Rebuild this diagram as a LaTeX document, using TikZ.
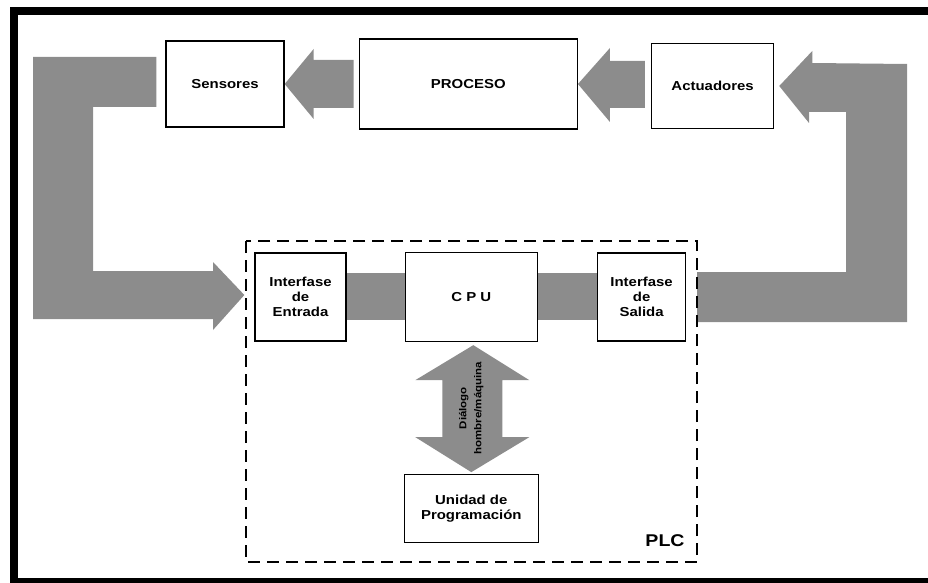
\documentclass[tikz,border=0pt]{standalone}
\usepackage{fontspec}
\setmainfont{Liberation Sans}[FakeStretch=1.15]
\usetikzlibrary{positioning,calc,backgrounds}
\tikzstyle{bloque}=[rectangle,draw=black,line width=1.3pt,fill=white,align=center,inner sep=0pt,font=\bfseries\fontsize{13}{15}\selectfont]
\tikzstyle{flecha}=[fill=black!45]
\tikzstyle{plc}=[draw=black,line width=1.8pt,dash pattern=on 12pt off 7pt]
\tikzstyle{marco}=[fill=black]

\begin{document}
\begin{tikzpicture}[x=1pt,y=-1pt]
            \useasboundingbox (0,0) rectangle (928,583);

            % fila superior
            \node[bloque,minimum width=118pt,minimum height=86pt] (sensores) at (225,84) {Sensores};
            \node[bloque,minimum width=218pt,minimum height=90pt,right=74pt of sensores] (proceso) {PROCESO};
            \node[bloque,minimum width=122pt,minimum height=85pt,right=73pt of proceso,yshift=-2pt] (actuadores) {Actuadores};

            % PLC
            \node[bloque,minimum width=91pt,minimum height=88pt] (entrada) at (300.5,297) {Interfase\\de\\Entrada};
            \node[bloque,minimum width=132pt,minimum height=89pt,right=58pt of entrada] (cpu) {C P U};
            \node[bloque,minimum width=88pt,minimum height=88pt,right=59pt of cpu] (salida) {Interfase\\de\\Salida};
            \node[bloque,minimum width=134pt,minimum height=68pt,below=132pt of cpu] (unidad) {Unidad de\\Programación};

            \coordinate (plcno) at (246,241);
            \coordinate (plcse) at (697,562);
            \draw[plc] (plcno) rectangle (plcse);
            \node[font=\bfseries\fontsize{17}{17}\selectfont] (etiqueta) at (665,541) {PLC};

            \begin{scope}[on background layer]
            \fill[flecha] (sensores.east) -- ++(29,-35) -- ++(0,11) -- ($(proceso.west)+(-5,-24)$) -- ++(0,48)
                -- ($(sensores.east)+(29,24)$) -- ++(0,11) -- cycle;
            \fill[flecha] (proceso.east) -- ++(32,-36) -- ++(0,13) -- ($(actuadores.west)+(-6,-25)$) -- ++(0,47)
                -- ($(proceso.east)+(32,24)$) -- ++(0,14) -- cycle;
            \fill[flecha] ($(actuadores.east)+(5,0)$) -- ++(33,-35) -- ++(0,12) -- (907,64) -- (907,322)
                -- ($(plcse |- salida)+(0,25)$) -- ++(0,-50) -- (846,272) -- (846,112) -- (809,112) -- (809,123) -- cycle;
            \fill[flecha] ($(sensores.west)+(-9,-27)$) -- (33,57) -- (33,319) -- (213,319) -- (213,330)
                -- ($(entrada.west)+(-10,-2)$) -- (213,262) -- (213,271) -- (93,271) -- (93,107)
                -- ($(sensores.west)+(-9,23)$) -- cycle;
            \fill[flecha] ($(entrada.east)+(0,-24)$) rectangle ($(cpu.west)+(0,23)$);
            \fill[flecha] ($(cpu.east)+(0,-24.5)$) rectangle ($(salida.west)+(0,23)$);
            \fill[flecha] ($(cpu.south)+(2,3)$) -- ++(56,35) -- ++(-27,0) -- ++(0,57) -- ++(27,0)
                -- ($(unidad.north)+(0,-2)$) -- ++(-56,-35) -- ++(27,0) -- ++(0,-57) -- ++(-27,0) -- cycle;
            \end{scope}
            \node[rotate=90,align=center,font=\bfseries\fontsize{10}{15}\selectfont] (dialogo)
                at ($(cpu.south)!0.5!(unidad.north)$) {Diálogo\\hombre/máquina};

            % marco
            \fill[marco] (10,7) rectangle (928,15);
            \fill[marco] (10,7) rectangle (18,583);
            \fill[marco] (10,578) rectangle (928,583);

        \end{tikzpicture}
\end{document}
